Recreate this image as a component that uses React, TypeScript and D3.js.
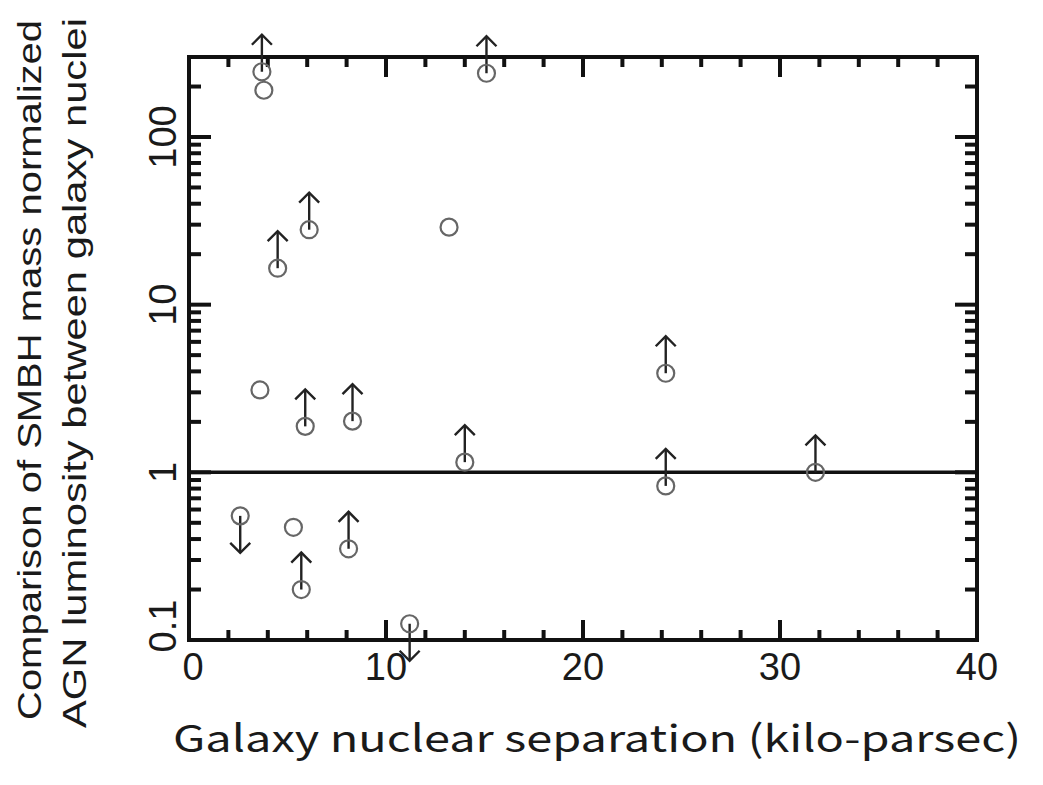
import React, { useEffect, useRef } from 'react';
import * as d3 from 'd3';

// galaxy nuclear separation (kpc)
const separation = [3.7, 3.8, 15.1, 4.5, 6.1, 13.2, 3.6, 5.9, 8.3, 14.0, 24.2, 24.2, 31.8, 2.6, 5.3, 5.7, 8.1, 11.2];
// normalized luminosity ratio
const ratio = [245, 190, 240, 16.5, 28, 29, 3.1, 1.88, 2.02, 1.15, 3.9, 0.83, 1.0, 0.55, 0.47, 0.2, 0.35, 0.125];
// limit type: 'up' = lower limit, 'down' = upper limit, '' = detection
const limit = ['up', '', 'up', 'up', 'up', '', '', 'up', 'up', 'up', 'up', 'up', 'up', 'down', '', 'up', 'up', 'down'];

const xTicks = [0, 10, 20, 30, 40];
const yTicks = [0.1, 1, 10, 100];
const yTickLabels = ['0.1', '1', '10', '100'];

export default function App() {
  const ref = useRef<SVGSVGElement>(null);

  useEffect(() => {
    const width = 1043;
    const height = 785;
    const margin = { top: 57, right: 66, bottom: 145, left: 189 };

    const svg = d3.select(ref.current);
    svg.selectAll('*').remove();

    const x = d3.scaleLinear().domain([0, 40]).range([margin.left, width - margin.right]);
    const y = d3.scaleLog().domain([0.1, 300]).range([height - margin.bottom, margin.top]);

    const g = svg.append('g');

    // frame
    g.append('rect')
      .attr('x', x(0)).attr('y', y(300))
      .attr('width', x(40) - x(0)).attr('height', y(0.1) - y(300))
      .attr('fill', 'none').attr('stroke', '#111').attr('stroke-width', 4);

    // ratio = 1 line
    g.append('line')
      .attr('x1', x(0)).attr('x2', x(40))
      .attr('y1', y(1)).attr('y2', y(1))
      .attr('stroke', '#111').attr('stroke-width', 3.5);

    // minor / major ticks, all four sides, pointing inward
    const ticks = g.append('g').attr('stroke', '#111').attr('stroke-width', 4);
    d3.range(0, 41, 2).forEach((v) => {
      const len = v % 10 === 0 ? 20 : 10;
      ticks.append('line').attr('x1', x(v)).attr('x2', x(v))
        .attr('y1', y(0.1)).attr('y2', y(0.1) - len);
      ticks.append('line').attr('x1', x(v)).attr('x2', x(v))
        .attr('y1', y(300)).attr('y2', y(300) + len);
    });

    const yMinor: number[] = [];
    [0.1, 1, 10, 100].forEach((d) => {
      for (let k = 1; k <= 9; k++) {
        const v = d * k;
        if (v <= 300) yMinor.push(v);
      }
    });
    yMinor.forEach((v) => {
      const major = yTicks.some((t) => Math.abs(t - v) < 1e-9);
      const len = major ? 22 : 12;
      ticks.append('line').attr('x1', x(0)).attr('x2', x(0) + len)
        .attr('y1', y(v)).attr('y2', y(v));
      ticks.append('line').attr('x1', x(40)).attr('x2', x(40) - len)
        .attr('y1', y(v)).attr('y2', y(v));
    });

    // tick labels
    g.selectAll('.xl').data(xTicks).join('text')
      .attr('x', (d) => x(d) + (d === 0 ? 4 : 0)).attr('y', 680)
      .attr('text-anchor', 'middle')
      .style('font-family', 'Liberation Sans, Arial, sans-serif')
      .style('font-size', '38px').attr('fill', '#1a1a1a')
      .text((d) => d);

    g.selectAll('.yl').data(yTicks).join('text')
      .attr('transform', (d) => `translate(176,${y(d) + (d === 0.1 ? -14 : 0)}) rotate(-90)`)
      .attr('text-anchor', 'middle')
      .style('font-family', 'Liberation Sans, Arial, sans-serif')
      .style('font-size', '38px').attr('fill', '#1a1a1a')
      .text((d, i) => yTickLabels[i]);

    // axis titles
    g.append('text')
      .attr('x', 597).attr('y', 752)
      .attr('text-anchor', 'middle')
      .attr('textLength', 848).attr('lengthAdjust', 'spacingAndGlyphs')
      .style('font-family', 'Noto Sans CJK JP, DejaVu Sans, sans-serif')
      .style('font-size', '37px').attr('fill', '#1a1a1a')
      .text('Galaxy nuclear separation (kilo-parsec)');

    const yTitle = ['Comparison of SMBH mass normalized', 'AGN luminosity between galaxy nuclei'];
    const yTitleLen = [700, 710];
    yTitle.forEach((t, i) => {
      g.append('text')
        .attr('transform', `translate(${41 + i * 45},${370 + i * 3}) rotate(-90)`)
        .attr('text-anchor', 'middle')
        .attr('textLength', yTitleLen[i]).attr('lengthAdjust', 'spacingAndGlyphs')
        .style('font-family', 'Liberation Sans Narrow, Liberation Sans, Arial, sans-serif')
        .style('font-size', '33px').attr('fill', '#1a1a1a')
        .text(t);
    });

    // points
    const pts = separation.map((s, i) => ({ s, r: ratio[i], lim: limit[i] }));
    const arrowLen = 37;
    const head = 10;

    const arrows = g.append('g').attr('stroke', '#222').attr('stroke-width', 2.4).attr('fill', 'none');
    pts.filter((p) => p.lim).forEach((p) => {
      const cx = x(p.s);
      const cy = y(p.r);
      const dir = p.lim === 'up' ? -1 : 1;
      const tip = cy + dir * arrowLen;
      arrows.append('line').attr('x1', cx).attr('x2', cx).attr('y1', cy).attr('y2', tip);
      arrows.append('path')
        .attr('d', `M${cx - head},${tip - dir * head} L${cx},${tip} L${cx + head},${tip - dir * head}`);
    });

    g.append('g').selectAll('circle').data(pts).join('circle')
      .attr('cx', (d) => x(d.s)).attr('cy', (d) => y(d.r))
      .attr('r', 8.5)
      .attr('fill', 'none').attr('stroke', '#666').attr('stroke-width', 2.2);
  }, []);

  return (
    <svg ref={ref} width={1043} height={785}
      style={{ position: 'absolute', left: 0, top: 0, background: '#fff' }} />
  );
}
